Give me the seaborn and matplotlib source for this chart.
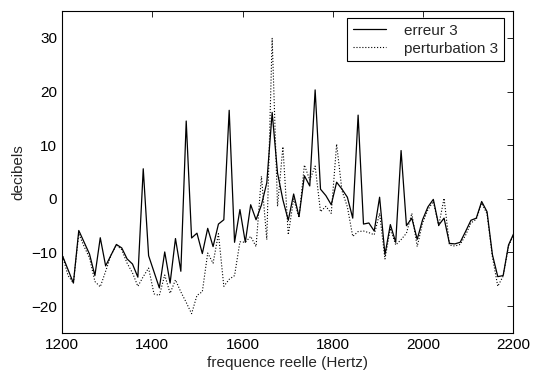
import matplotlib
matplotlib.use("Agg")
import matplotlib.pyplot as plt
import pandas as pd
import seaborn as sns

# frequency bins (Hz)
freq = [
    1201.5, 1213.4, 1225.3, 1237.2, 1249.1, 1261.0, 1272.9, 1284.8, 1296.7, 1308.6,
    1320.5, 1332.4, 1344.3, 1356.2, 1368.1, 1380.0, 1391.9, 1403.8, 1415.7, 1427.6,
    1439.5, 1451.4, 1463.3, 1475.2, 1487.1, 1499.0, 1510.9, 1522.8, 1534.7, 1546.6,
    1558.5, 1570.4, 1582.3, 1594.2, 1606.1, 1618.0, 1629.9, 1641.8, 1653.7, 1665.6,
    1677.5, 1689.4, 1701.3, 1713.2, 1725.1, 1737.0, 1748.9, 1760.8, 1772.7, 1784.6,
    1796.5, 1808.4, 1820.3, 1832.2, 1844.1, 1856.0, 1867.9, 1879.8, 1891.7, 1903.6,
    1915.5, 1927.4, 1939.3, 1951.2, 1963.1, 1975.0, 1986.9, 1998.8, 2010.7, 2022.6,
    2034.5, 2046.4, 2058.3, 2070.2, 2082.1, 2094.0, 2105.9, 2117.8, 2129.7, 2141.6,
    2153.5, 2165.4, 2177.3, 2189.2, 2201.1,
]

erreur = [
    -10.7, -13.2, -15.7, -5.9, -8.1, -10.3, -14.3, -7.25, -12.5, -10.5,
    -8.5, -9.15, -11.2, -12.15, -14.6, 5.6, -10.6, -13.6, -16.6, -9.9,
    -15.7, -7.4, -13.5, 14.5, -7.3, -6.4, -10.2, -5.5, -8.9, -4.7,
    -3.9, 16.5, -8.1, -2.0, -8.1, -1.1, -3.9, -1.15, 3.0, 16.1,
    4.8, -0.2, -4.0, 0.9, -3.3, 4.3, 2.4, 20.3, 1.8, 0.6,
    -1.1, 3.1, 1.8, 0.3, -3.6, 15.6, -4.7, -4.5, -6.0, 0.3,
    -10.4, -4.8, -8.1, 9.0, -5.0, -3.6, -7.55, -3.9, -1.5, -0.1,
    -4.9, -3.6, -8.3, -8.4, -8.1, -6.1, -4.0, -3.6, -0.5, -2.4,
    -10.4, -14.5, -14.3, -8.6, -6.4,
]

perturbation = [
    -10.7, -14.3, -15.7, -6.5, -8.9, -11.0, -15.4, -16.4, -13.5, -10.5,
    -8.6, -9.5, -12.0, -13.8, -16.3, -14.5, -12.9, -17.7, -18.0, -14.2,
    -17.6, -15.1, -17.35, -19.3, -21.4, -18.0, -17.3, -10.1, -12.0, -6.5,
    -16.3, -15.0, -14.3, -8.0, -8.1, -7.0, -8.9, 4.2, -7.6, 29.9,
    -1.4, 9.7, -6.7, 0.0, -3.5, 6.3, 3.5, 6.1, -2.4, -1.4,
    -2.7, 10.2, 1.5, -1.5, -7.0, -6.1, -6.0, -6.3, -6.7, -2.7,
    -11.2, -5.5, -8.6, -7.6, -6.4, -2.7, -8.9, -4.5, -2.0, -0.5,
    -5.0, 0.1, -8.6, -8.8, -8.5, -6.8, -4.5, -3.8, -0.8, -2.8,
    -10.8, -16.3, -14.4, -8.8, -6.6,
]

x_ticks = [1200, 1400, 1600, 1800, 2000, 2200]
y_ticks = [-20, -10, 0, 10, 20, 30]

df = pd.DataFrame({"freq": freq, "erreur": erreur, "perturbation": perturbation})

sns.set_style("white")
plt.rcParams["font.family"] = ["Liberation Sans", "DejaVu Sans"]

fig = plt.figure(figsize=(5.39, 3.76), dpi=100)
ax = fig.add_axes([0.115, 0.1144, 0.8375, 0.8563])

sns.lineplot(data=df, x="freq", y="erreur", ax=ax, color="black",
             linewidth=0.9, label="erreur 3", sort=False)
sns.lineplot(data=df, x="freq", y="perturbation", ax=ax, color="black",
             linewidth=0.8, linestyle=":", label="perturbation 3", sort=False)

ax.set_xlim(1200, 2200)
ax.set_ylim(-25, 35)
ax.set_xticks(x_ticks)
ax.set_yticks(y_ticks)
ax.tick_params(direction="in", top=True, right=True, length=4, width=0.6,
               labelsize=11, colors="black")
for s in ax.spines.values():
    s.set_color("black")
    s.set_linewidth(0.8)

ax.set_xlabel("frequence reelle (Hertz)", fontsize=11, labelpad=3)
ax.set_ylabel("decibels", fontsize=11)

# legend box in the upper right, MATLAB-like square frame
leg = ax.legend(loc="upper right", bbox_to_anchor=(0.979, 0.977), borderaxespad=0,
                fancybox=False, edgecolor="black", framealpha=1, fontsize=11,
                handlelength=2.2, handletextpad=1.2, borderpad=0.35,
                labelspacing=0.25)
leg.get_frame().set_linewidth(0.8)

fig.savefig("out.png", dpi=100)
